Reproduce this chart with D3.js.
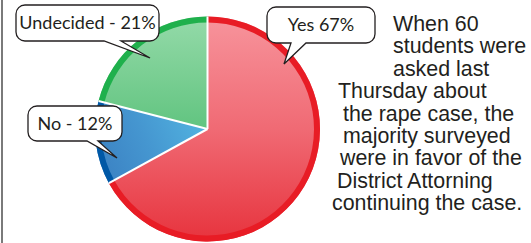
<!DOCTYPE html>
<html lang="en">
<head>
<meta charset="UTF-8">
<title>Poll pie</title>
<script src="https://cdn.jsdelivr.net/npm/d3@7/dist/d3.min.js"></script>
<style>
  body { margin: 0; background: #fff; }
  svg { display: block; }
</style>
</head>
<body>
<script>
// survey data
var categories = ['Yes', 'No', 'Undecided'];
var values = [67, 12, 21];
var labels = ['Yes 67%', 'No - 12%', 'Undecided - 21%'];
var blurb = ['When 60', 'students were', 'asked last', 'Thursday about', 'the rape case, the',
  'majority surveyed', 'were in favor of the', 'District Attorning', 'continuing the case.'];

var width = 531, height = 243;
var cx = 207.5, cy = 129, radius = 112.5;

var fills = {
  Yes: ['#f7949c', '#f06a74', '#e7333d'],
  No: ['#52b3e0', '#4596d0', '#3a7fc1'],
  Undecided: ['#94daa9', '#7bcf94', '#61c480']
};
var rims = { Yes: '#e81c25', No: '#0058a6', Undecided: '#1fb04c' };

// callout boxes: [x, y, w, h], tail base x's, tip
var callouts = {
  Yes: { box: [267, 7, 108, 36], base: [291, 306], tip: [284, 64] },
  No: { box: [28, 106, 94, 35], base: [87, 98], tip: [117, 158] },
  Undecided: { box: [16, 5, 143, 36], base: [104, 121], tip: [150, 58] }
};

var svg = d3.select('body').append('svg')
  .attr('width', width)
  .attr('height', height);

svg.append('line')
  .attr('x1', 2).attr('x2', 2).attr('y1', 0).attr('y2', height)
  .attr('stroke', '#7a7a7a').attr('stroke-width', 2);

// gradient coords are relative to the pie centre (slices live in a translated group)
var defs = svg.append('defs');
var grads = {
  Yes: [0, -radius, 0, radius],
  No: [0, 0, -radius, 50],
  Undecided: [0, -radius, 0, 0]
};
categories.forEach(function (c) {
  var g = defs.append('linearGradient')
    .attr('id', 'grad-' + c)
    .attr('gradientUnits', 'userSpaceOnUse')
    .attr('x1', grads[c][0]).attr('y1', grads[c][1])
    .attr('x2', grads[c][2]).attr('y2', grads[c][3]);
  g.selectAll('stop')
    .data(fills[c])
    .enter().append('stop')
    .attr('offset', function (d, i) { return i / (fills[c].length - 1); })
    .attr('stop-color', function (d) { return d; });
});

var pie = d3.pie().sort(null).value(function (d) { return d.value; });
var data = pie(categories.map(function (c, i) { return { key: c, value: values[i] }; }));

var arc = d3.arc().innerRadius(0).outerRadius(radius);
var rim = d3.arc().innerRadius(radius - 6).outerRadius(radius);

var g = svg.append('g').attr('transform', 'translate(' + cx + ',' + cy + ')');

g.selectAll('.slice')
  .data(data)
  .enter().append('path')
  .attr('class', 'slice')
  .attr('d', arc)
  .attr('fill', function (d) { return 'url(#grad-' + d.data.key + ')'; });

g.selectAll('.rim')
  .data(data)
  .enter().append('path')
  .attr('class', 'rim')
  .attr('d', rim)
  .attr('fill', function (d) { return rims[d.data.key]; });

// white separators
g.selectAll('.sep')
  .data(data)
  .enter().append('line')
  .attr('x1', 0).attr('y1', 0)
  .attr('x2', function (d) { return Math.sin(d.startAngle) * radius; })
  .attr('y2', function (d) { return -Math.cos(d.startAngle) * radius; })
  .attr('stroke', '#fff').attr('stroke-width', 2);

function calloutPath(o) {
  var x = o.box[0], y = o.box[1], w = o.box[2], h = o.box[3], r = 9;
  var p = d3.path();
  p.moveTo(x + r, y);
  p.lineTo(x + w - r, y);
  p.arcTo(x + w, y, x + w, y + r, r);
  p.lineTo(x + w, y + h - r);
  p.arcTo(x + w, y + h, x + w - r, y + h, r);
  p.lineTo(o.base[1], y + h);
  p.lineTo(o.tip[0], o.tip[1]);
  p.lineTo(o.base[0], y + h);
  p.lineTo(x + r, y + h);
  p.arcTo(x, y + h, x, y + h - r, r);
  p.lineTo(x, y + r);
  p.arcTo(x, y, x + r, y, r);
  p.closePath();
  return p.toString();
}

var co = svg.selectAll('.callout')
  .data(categories)
  .enter().append('g')
  .attr('class', 'callout');

co.append('path')
  .attr('d', function (c) { return calloutPath(callouts[c]); })
  .attr('fill', '#fff')
  .attr('stroke', '#231f20')
  .attr('stroke-width', 1.3);

co.append('text')
  .attr('x', function (c) { return callouts[c].box[0] + callouts[c].box[2] / 2; })
  .attr('y', function (c) { return callouts[c].box[1] + callouts[c].box[3] / 2 + 6; })
  .attr('text-anchor', 'middle')
  .style('font-family', 'Lato, "Open Sans", sans-serif')
  .style('font-size', '18px')
  .attr('fill', '#231f20')
  .text(function (c) { return labels[categories.indexOf(c)]; });

// paragraph on the right
var lineX = [393, 393, 393, 338, 343, 343, 340, 337, 332];
svg.append('g').selectAll('text')
  .data(blurb)
  .enter().append('text')
  .attr('x', function (d, i) { return lineX[i]; })
  .attr('y', function (d, i) { return 31 + i * 22.4; })
  .style('font-family', '"Liberation Sans", Arial, sans-serif')
  .style('font-size', '21.4px')
  .attr('fill', '#231f20')
  .text(function (d) { return d; });
</script>
</body>
</html>
